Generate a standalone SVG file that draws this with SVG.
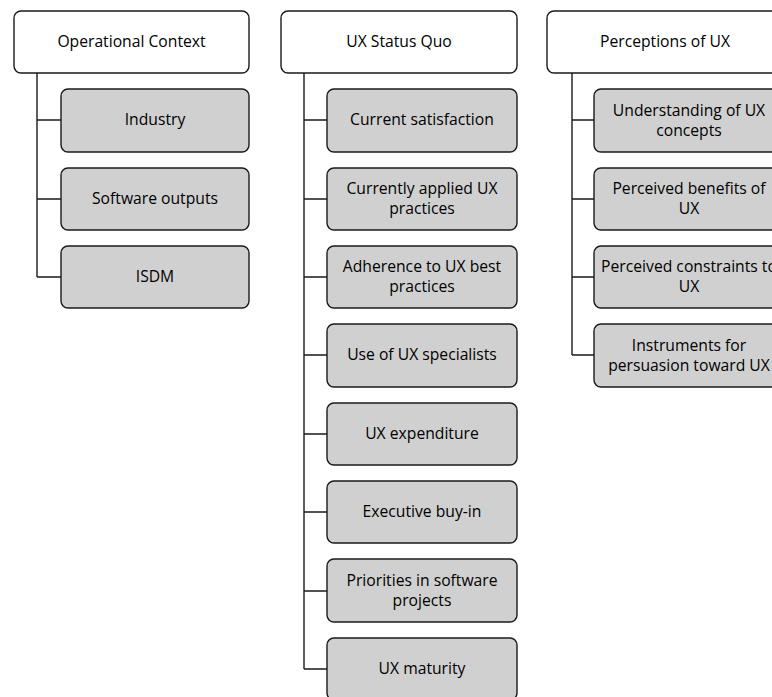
<svg xmlns="http://www.w3.org/2000/svg" width="772" height="697" viewBox="0 0 772 697">
<style>
.top{fill:#ffffff;stroke:#1a1a1a;stroke-width:1.4}
.child{fill:#d0d0d0;stroke:#1a1a1a;stroke-width:1.4}
.conn{fill:none;stroke:#1a1a1a;stroke-width:1.4}
text{font-family:"Open Sans","Liberation Sans",sans-serif;font-size:15.7px;fill:#000;text-anchor:middle}
</style>
<rect width="772" height="697" fill="#ffffff"/>
<g id="connectors">
<path class="conn" d="M37,73 V277 M37,120 H61 M37,199 H61 M37,277 H61"/>
<path class="conn" d="M304,73 V669 M304,120 H327 M304,199 H327 M304,277 H327 M304,355 H327 M304,434 H327 M304,512 H327 M304,591 H327 M304,669 H327"/>
<path class="conn" d="M572,73 V355 M572,120 H594 M572,199 H594 M572,277 H594 M572,355 H594"/>
</g>
<g id="operational-context"><rect class="top" x="14" y="11" width="235" height="62" rx="7"/><text x="131.5" y="47">Operational Context</text></g>
<g id="industry"><rect class="child" x="61" y="89" width="188" height="63" rx="7"/><text x="155" y="125">Industry</text></g>
<g id="software-outputs"><rect class="child" x="61" y="168" width="188" height="62" rx="7"/><text x="155" y="204">Software outputs</text></g>
<g id="isdm"><rect class="child" x="61" y="246" width="188" height="62" rx="7"/><text x="155" y="282">ISDM</text></g>

<g id="ux-status-quo"><rect class="top" x="281" y="11" width="236" height="62" rx="7"/><text x="399" y="47">UX Status Quo</text></g>
<g id="current-satisfaction"><rect class="child" x="327" y="89" width="190" height="63" rx="7"/><text x="422" y="125">Current satisfaction</text></g>
<g id="currently-applied"><rect class="child" x="327" y="168" width="190" height="62" rx="7"/><text x="422" y="194">Currently applied UX</text><text x="422" y="214">practices</text></g>
<g id="adherence"><rect class="child" x="327" y="246" width="190" height="62" rx="7"/><text x="422" y="272">Adherence to UX best</text><text x="422" y="292">practices</text></g>
<g id="use-of-specialists"><rect class="child" x="327" y="324" width="190" height="63" rx="7"/><text x="422" y="360">Use of UX specialists</text></g>
<g id="ux-expenditure"><rect class="child" x="327" y="403" width="190" height="62" rx="7"/><text x="422" y="439">UX expenditure</text></g>
<g id="executive-buy-in"><rect class="child" x="327" y="481" width="190" height="62" rx="7"/><text x="422" y="517">Executive buy-in</text></g>
<g id="priorities"><rect class="child" x="327" y="559" width="190" height="63" rx="7"/><text x="422" y="586">Priorities in software</text><text x="422" y="606">projects</text></g>
<g id="ux-maturity"><rect class="child" x="327" y="638" width="190" height="62" rx="7"/><text x="422" y="674">UX maturity</text></g>

<g id="perceptions-of-ux"><rect class="top" x="547" y="11" width="236" height="62" rx="7"/><text x="665" y="47">Perceptions of UX</text></g>
<g id="understanding"><rect class="child" x="594" y="89" width="190" height="63" rx="7"/><text x="689" y="116">Understanding of UX</text><text x="689" y="136">concepts</text></g>
<g id="perceived-benefits"><rect class="child" x="594" y="168" width="190" height="62" rx="7"/><text x="689" y="194">Perceived benefits of</text><text x="689" y="214">UX</text></g>
<g id="perceived-constraints"><rect class="child" x="594" y="246" width="190" height="62" rx="7"/><text x="689" y="272">Perceived constraints to</text><text x="689" y="292">UX</text></g>
<g id="instruments"><rect class="child" x="594" y="324" width="190" height="63" rx="7"/><text x="689" y="351">Instruments for</text><text x="689" y="371">persuasion toward UX</text></g>
</svg>
